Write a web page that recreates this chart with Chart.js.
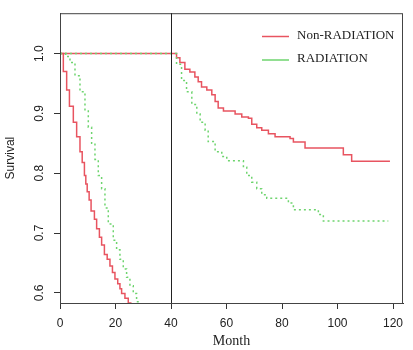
<!DOCTYPE html>
<html>
<head>
<meta charset="utf-8">
<script src="https://cdn.jsdelivr.net/npm/chart.js@4"></script>
<style>
  html, body { margin: 0; padding: 0; background: #fff; }
</style>
</head>
<body>
<canvas id="c" width="413" height="350"></canvas>
<script>
// axis ticks
const xTicks = [0, 20, 40, 60, 80, 100, 120];
const yTicks = [0.6, 0.7, 0.8, 0.9, 1.0];
const seriesNames = ['Non-RADIATION', 'RADIATION'];
const landmarkMonth = 40;

// first 40 months
const nonRadEarlyMonth = [0, 1.2, 2.4, 3.4, 4.8, 6.0, 7.2, 8.0, 8.8, 9.3, 9.8, 10.5, 11.2, 12.4, 13.2, 14.2, 15.0, 16.0, 17.0, 18.0, 18.9, 19.8, 20.8, 21.6, 22.2, 23.4, 24.6, 25.5];
const nonRadEarlySurv  = [1.0, 0.970, 0.939, 0.912, 0.885, 0.861, 0.836, 0.818, 0.796, 0.782, 0.769, 0.755, 0.737, 0.723, 0.707, 0.693, 0.680, 0.664, 0.656, 0.645, 0.634, 0.623, 0.615, 0.607, 0.599, 0.591, 0.583, 0.572];
const radEarlyMonth = [0, 2.0, 3.6, 5.4, 7.2, 9.0, 10.2, 11.4, 12.6, 13.8, 15.0, 16.2, 17.4, 19.2, 20.4, 21.6, 22.8, 24.0, 25.2, 26.4, 27.6, 28.5];
const radEarlySurv  = [1.0, 0.995, 0.985, 0.963, 0.936, 0.904, 0.877, 0.850, 0.823, 0.796, 0.774, 0.742, 0.715, 0.688, 0.672, 0.656, 0.640, 0.626, 0.612, 0.599, 0.585, 0.570];

// after the 40 month landmark
const nonRadLateMonth = [0, 40.8, 42.0, 43.2, 45.0, 46.8, 48.6, 49.8, 51.0, 52.9, 54.7, 55.9, 57.0, 58.9, 63.1, 65.5, 67.9, 69.1, 70.9, 72.7, 75.1, 77.5, 82.9, 84.1, 88.3, 102.1, 105.1, 118.9];
const nonRadLateSurv  = [1.0, 1.0, 0.993, 0.985, 0.974, 0.969, 0.961, 0.953, 0.944, 0.939, 0.931, 0.920, 0.909, 0.904, 0.899, 0.894, 0.892, 0.882, 0.876, 0.872, 0.866, 0.861, 0.858, 0.852, 0.842, 0.831, 0.820, 0.820];
const radLateMonth = [0, 40.8, 42.0, 43.8, 45.6, 47.5, 49.3, 50.5, 52.3, 53.4, 55.9, 58.3, 60.1, 66.1, 67.3, 69.1, 70.9, 72.7, 74.5, 82.3, 84.1, 93.1, 94.9, 118.3];
const radLateSurv  = [1.0, 1.0, 0.982, 0.955, 0.936, 0.915, 0.899, 0.885, 0.872, 0.853, 0.836, 0.828, 0.821, 0.810, 0.796, 0.785, 0.774, 0.764, 0.758, 0.750, 0.739, 0.731, 0.720, 0.720];

const redCol = 'rgb(232, 84, 96)';
const greenCol = 'rgb(110, 212, 110)';

const toPoints = (t, s) => t.map((v, i) => ({ x: v, y: s[i] }));

const stepLine = (pts, color, dashed) => ({
  data: pts,
  borderColor: color,
  borderWidth: 1.5,
  borderDash: dashed ? [2, 3] : [],
  stepped: 'before',
  pointRadius: 0,
  fill: false
});

// draws the box, the landmark line and the legend inside the plot
const framePlugin = {
  id: 'frame',
  afterDatasetsDraw(chart) {
    const { ctx, chartArea: a, scales: { x } } = chart;
    ctx.save();
    ctx.strokeStyle = '#444';
    ctx.lineWidth = 1;
    ctx.strokeRect(a.left + 0.5, a.top + 0.5, a.width - 1, a.height);
    const lx = Math.round(x.getPixelForValue(landmarkMonth)) + 0.5;
    ctx.strokeStyle = '#222';
    ctx.beginPath();
    ctx.moveTo(lx, a.top);
    ctx.lineTo(lx, a.bottom);
    ctx.stroke();

    // legend
    const cols = [redCol, greenCol];
    ctx.font = '13px "Liberation Serif", "Times New Roman", serif';
    ctx.textBaseline = 'middle';
    ctx.fillStyle = '#222';
    seriesNames.forEach((name, i) => {
      const y = 36 + i * 23.5;
      ctx.strokeStyle = cols[i];
      ctx.lineWidth = 1.5;
      ctx.beginPath();
      ctx.moveTo(262, y + 0.5);
      ctx.lineTo(289, y + 0.5);
      ctx.stroke();
      ctx.fillText(name, 297, y - 0.5);
    });
    ctx.restore();
  }
};

const tickFont = { family: '"Liberation Sans", Arial, sans-serif', size: 12 };

new Chart(document.getElementById('c'), {
  type: 'line',
  data: {
    datasets: [
      stepLine(toPoints(radEarlyMonth, radEarlySurv), greenCol, true),
      stepLine(toPoints(radLateMonth, radLateSurv), greenCol, true),
      stepLine(toPoints(nonRadEarlyMonth, nonRadEarlySurv), redCol, false),
      stepLine(toPoints(nonRadLateMonth, nonRadLateSurv), redCol, false)
    ]
  },
  options: {
    responsive: false,
    animation: false,
    layout: { padding: { top: 4, right: 10, left: 0, bottom: 0 } },
    plugins: {
      legend: { display: false },
      tooltip: { enabled: false }
    },
    scales: {
      x: {
        type: 'linear',
        min: 0,
        max: 123.6,
        afterBuildTicks: (s) => { s.ticks = xTicks.map(v => ({ value: v })); },
        afterFit: (s) => { s.height = 47; },
        grid: { display: true, drawOnChartArea: false, drawTicks: true, tickLength: 6, color: '#333' },
        border: { display: true, color: '#333', width: 1 },
        ticks: { font: tickFont, color: '#222', padding: 7, maxRotation: 0 },
        title: {
          display: true,
          text: 'Month',
          font: { family: '"Liberation Serif", "Times New Roman", serif', size: 14 },
          color: '#222',
          padding: { top: 0, bottom: 0 }
        }
      },
      y: {
        type: 'linear',
        min: 0.583,
        max: 1.0675,
        afterBuildTicks: (s) => { s.ticks = yTicks.map(v => ({ value: v })); },
        afterFit: (s) => { s.width = 60; },
        grid: { display: true, drawOnChartArea: false, drawTicks: true, tickLength: 6, color: '#333' },
        border: { display: true, color: '#333', width: 1 },
        ticks: {
          font: tickFont,
          color: '#222',
          padding: 6,
          minRotation: 90,
          maxRotation: 90,
          crossAlign: 'center',
          callback: (v) => v.toFixed(1)
        },
        title: {
          display: true,
          text: 'Survival',
          font: { family: '"Liberation Sans", Arial, sans-serif', size: 12 },
          color: '#222',
          padding: { top: 3, bottom: 0 }
        }
      }
    }
  },
  plugins: [framePlugin]
});
</script>
</body>
</html>
